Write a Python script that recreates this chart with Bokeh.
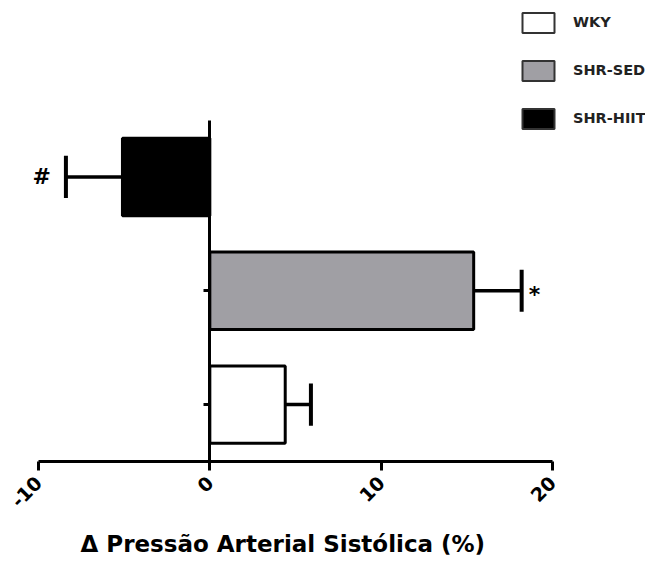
import math
from bokeh.plotting import figure
from bokeh.models import (ColumnDataSource, FixedTicker, Legend, LegendItem, Range1d,
                          LinearAxis, NumeralTickFormatter, Title)
from bokeh.core.properties import value
from bokeh.embed import file_html
from bokeh.resources import INLINE

groups = ["WKY", "SHR-SED", "SHR-HIIT"]
means = [4.4, 15.4, -5.1]
errors = [1.5, 2.8, 3.3]
marks = ["", "*", "#"]
colors = ["#ffffff", "#a09fa4", "#000000"]
x_ticks = [-10, 0, 10, 20]
x_title = "Δ Pressão Arterial Sistólica (%)"

ypos = [i + 0.5 for i in range(len(groups))]
ends = [m + (e if m >= 0 else -e) for m, e in zip(means, errors)]
aligns = ["left" if m >= 0 else "right" for m in means]
x_offs = [7 if m >= 0 else -15 for m in means]
y_offs = [4 if mk == "*" else 0 for mk in marks]

src = ColumnDataSource(dict(group=groups, y=ypos, mean=means, end=ends, zero=[0] * len(groups),
                            color=colors, mark=marks, align=aligns, xo=x_offs, yo=y_offs))

FONT = "DejaVu Sans"

p = figure(width=645, height=569,
           x_range=Range1d(-12.218, 25.428), y_range=Range1d(0, 4.05),
           output_backend="svg", toolbar_location=None, y_axis_location=None,
           min_border_left=0, min_border_right=0, min_border_top=0, min_border_bottom=106)
p.outline_line_color = None
p.grid.visible = False

bars = p.hbar(y="y", left="zero", right="mean", height=0.68, source=src,
              fill_color="color", line_color="black", line_width=3)
p.segment(x0="mean", y0="y", x1="end", y1="y", source=src,
          line_color="black", line_width=3.5)
p.rect(x="end", y="y", width=4, height=0.37, width_units="screen", source=src,
       fill_color="black", line_color=None)
p.text(x="end", y="y", text="mark", x_offset="xo", y_offset="yo", text_align="align",
       text_baseline="middle", source=src, text_font=value(FONT),
       text_font_style="bold", text_font_size="22px", text_color="black")

# legend-only glyphs (thinner, dark-grey borders)
leg_r = p.hbar(y="y", left="zero", right="mean", height=0.68, source=src,
               fill_color="color", line_color="#333333", line_width=2, visible=False)

# y axis at x = 0 (no tick labels, as in the original)
yax = LinearAxis(fixed_location=0, ticker=FixedTicker(ticks=ypos), bounds=(0, len(groups)))
yax.axis_line_width = 3
yax.major_tick_line_width = 3
yax.major_tick_out = 6
yax.major_tick_in = 0
yax.minor_tick_line_color = None
yax.major_label_overrides = {y: "" for y in ypos}
yax.major_label_standoff = 0
p.add_layout(yax, "left")

# x axis
xax = p.xaxis[0]
xax.bounds = (x_ticks[0], x_ticks[-1])
xax.ticker = FixedTicker(ticks=x_ticks)
xax.formatter = NumeralTickFormatter(format="0")
xax.minor_tick_line_color = None
xax.axis_line_width = 3
xax.major_tick_line_width = 3
xax.major_tick_out = 9
xax.major_tick_in = 0
xax.major_label_orientation = math.pi / 4
xax.major_label_text_font = FONT
xax.major_label_text_font_style = "bold"
xax.major_label_text_font_size = "19px"
xax.major_label_text_color = "black"
xax.major_label_standoff = 9

title = Title(text=x_title, align="left", offset=80, standoff=25,
              text_font=FONT, text_font_style="bold", text_font_size="23px",
              text_color="black")
p.add_layout(title, "below")

legend = Legend(items=[LegendItem(label=g, renderers=[leg_r], index=i) for i, g in enumerate(groups)],
                location=(518, 330.5), padding=0, margin=0, border_line_color=None,
                background_fill_alpha=0, glyph_width=40, glyph_height=25, label_height=25,
                spacing=23, label_standoff=15, label_text_font=FONT,
                label_text_font_style="bold", label_text_font_size="14.5px",
                label_text_color="#222222", click_policy="none")
p.add_layout(legend)

open("out.html", "w").write(file_html(p, INLINE))
